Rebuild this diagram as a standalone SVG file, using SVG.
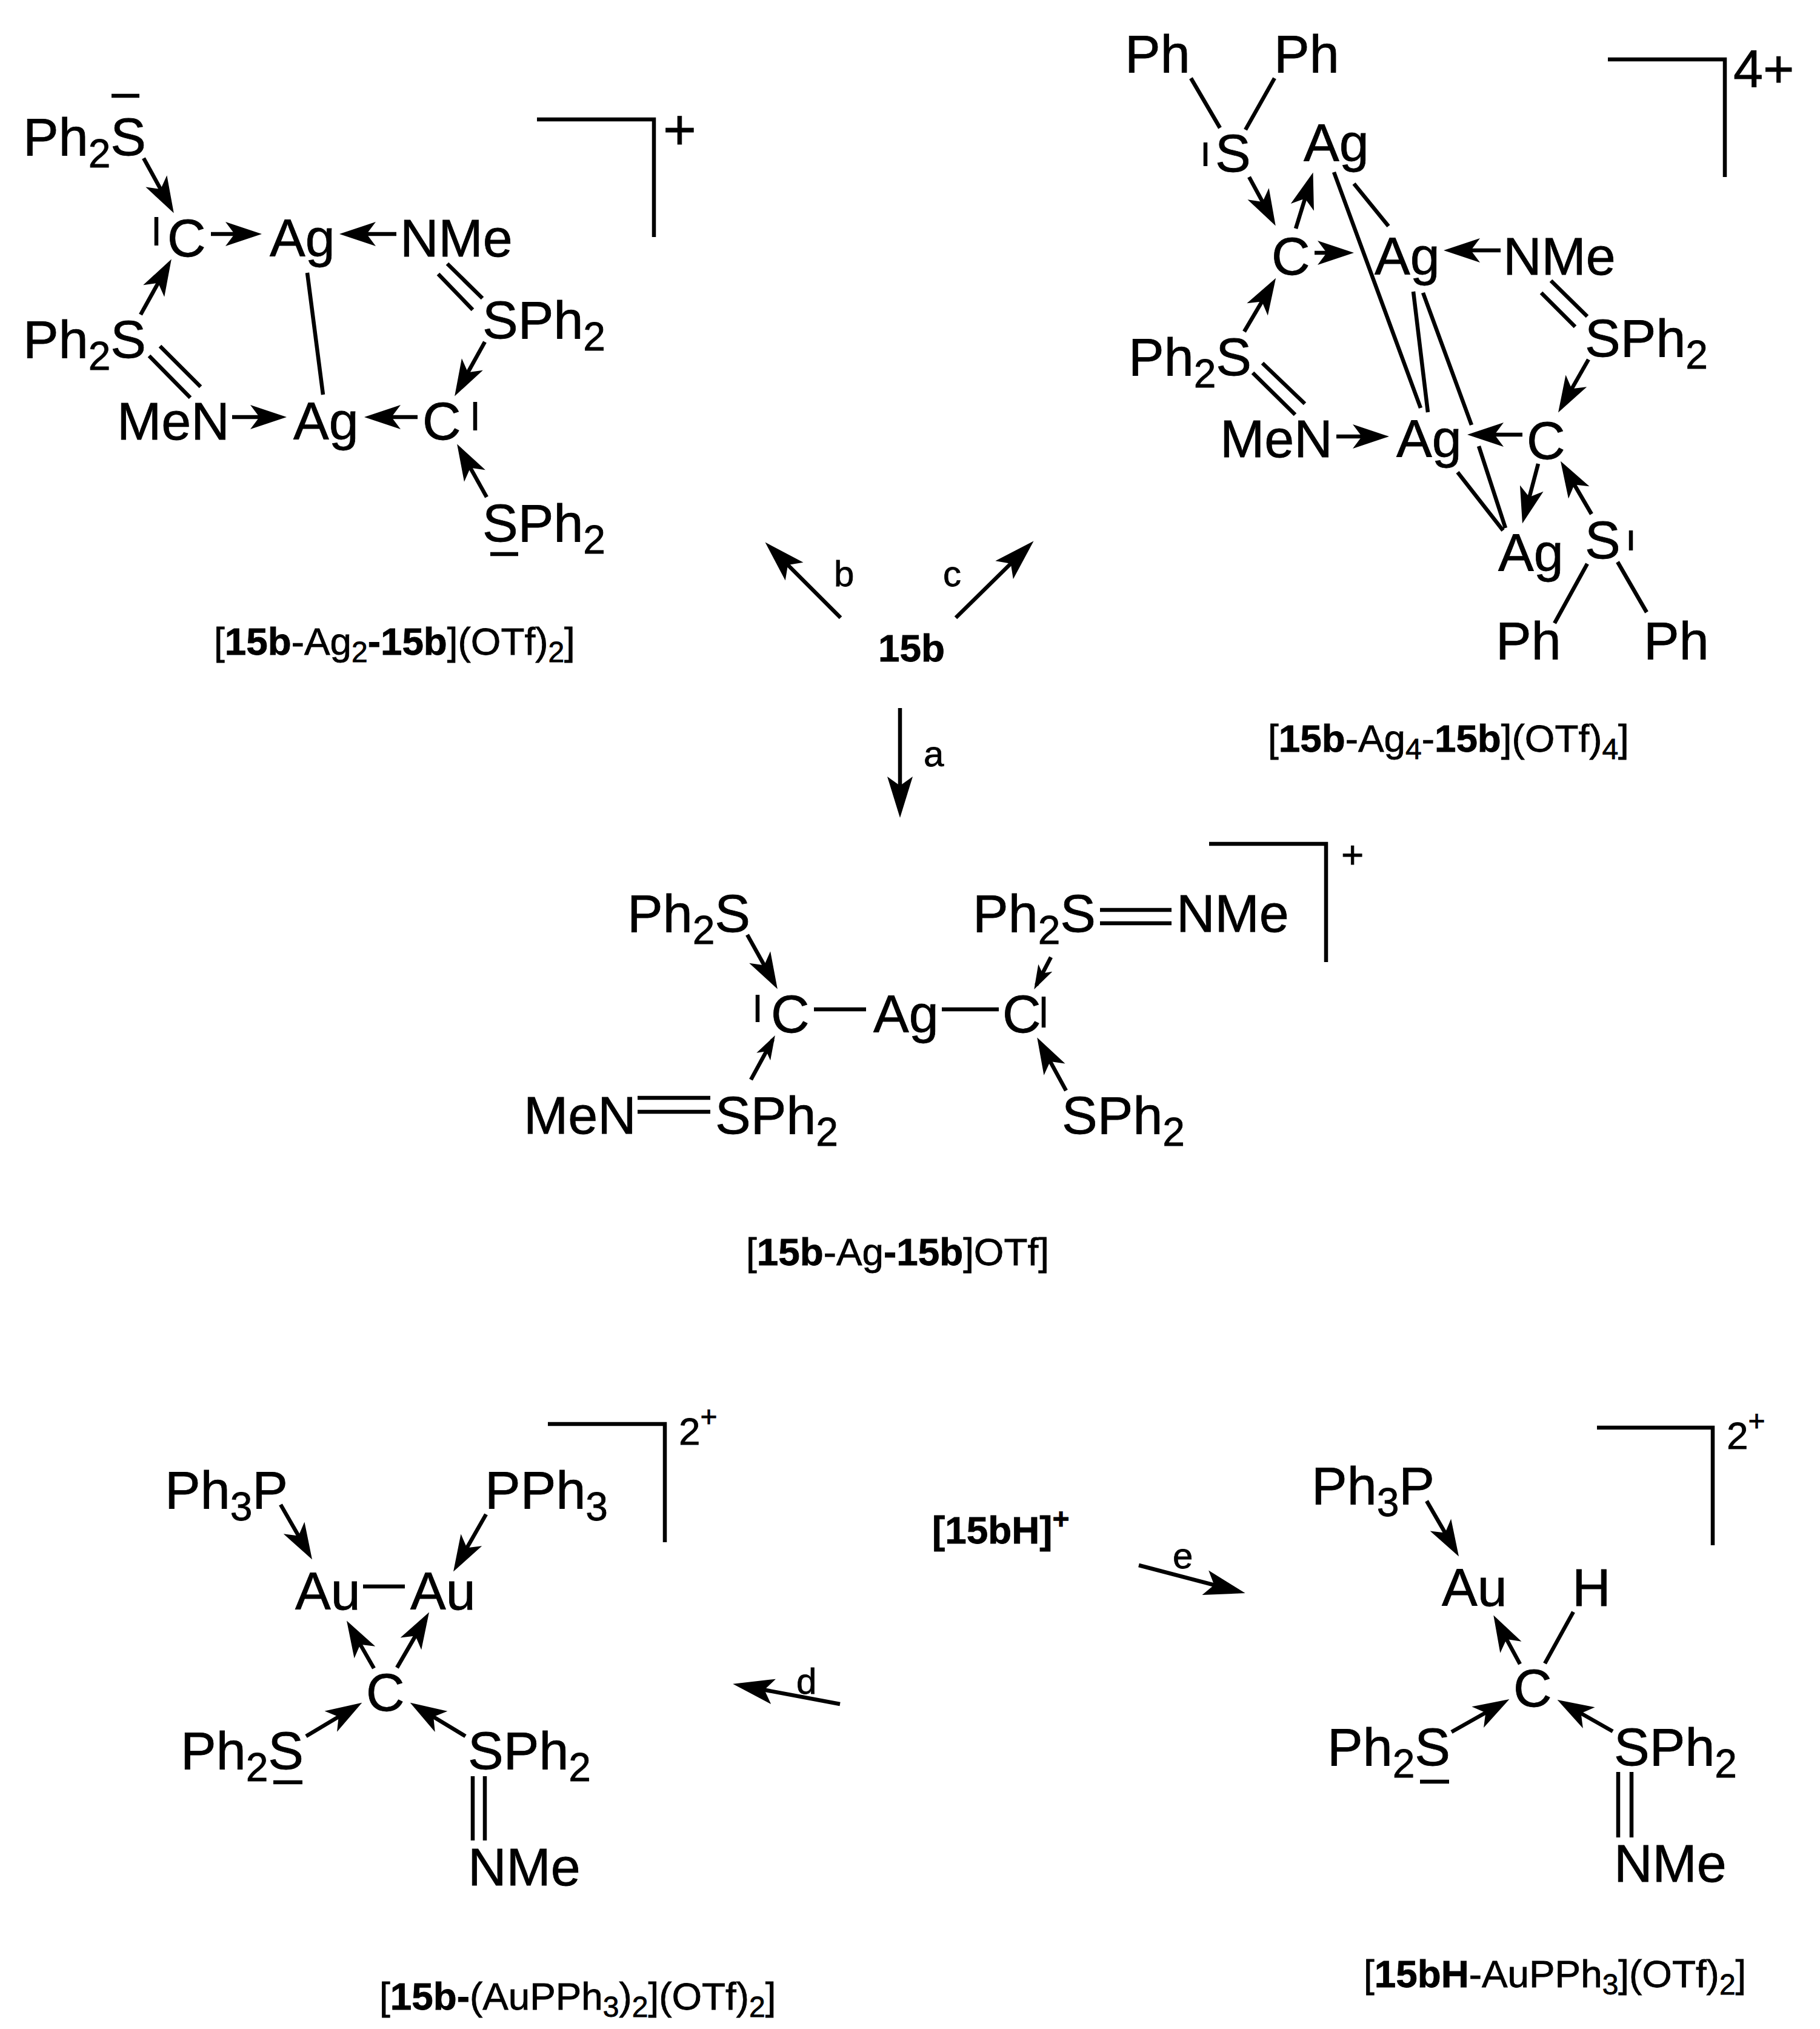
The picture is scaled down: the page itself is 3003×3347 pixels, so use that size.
<svg xmlns="http://www.w3.org/2000/svg" width="3003" height="3347" viewBox="0 0 3003 3347">
<style>
text{font-family:"Liberation Sans",Arial,sans-serif;fill:#000;stroke:#000;stroke-width:.8px}
.t{font-size:88px}
.l{font-size:63.8px}
.r{font-size:60px}
.s{font-size:66px}
.ls{font-size:48px}
.b{font-weight:bold}
.c path{fill:none;stroke:#000;stroke-width:6.5}
.a{marker-end:url(#h)}
.m{marker-end:url(#hs)}
.x{marker-end:url(#hl)}
</style>
<defs>
<marker id="h" markerUnits="userSpaceOnUse" markerWidth="76" markerHeight="48" viewBox="0 0 76 48" refX="50" refY="24" orient="auto"><path d="M62,24 L2,4 L17,24 L2,44 Z" fill="#000" stroke="none"/></marker>
<marker id="hs" markerUnits="userSpaceOnUse" markerWidth="50" markerHeight="30" viewBox="0 0 50 30" refX="32" refY="15" orient="auto"><path d="M40,15 L0,2 L10,15 L0,28 Z" fill="#000" stroke="none"/></marker>
<marker id="hl" markerUnits="userSpaceOnUse" markerWidth="84" markerHeight="48" viewBox="0 0 84 48" refX="58" refY="24" orient="auto"><path d="M70,24 L2,3 L17,24 L2,45 Z" fill="#000" stroke="none"/></marker>
</defs>
<rect width="3003" height="3347" fill="#fff"/>
<g id="connectors" class="c">
<!-- structure 1 -->
<path class="a" d="M237,261L281,341"/><path class="a" d="M348,386H420"/><path class="a" d="M654,386H572"/><path class="a" d="M800,564L756,643"/><path class="a" d="M689,688H613"/><path class="a" d="M383,688H461"/><path class="a" d="M232,519L277,438"/><path class="a" d="M803,820L760,743"/>
<path d="M738,435L796,492M723,452L780,511M264,571L331,638M246,587L314,656M507,450L533,651"/>
<path d="M184,158H230M258,358V405M784,663V710M809,914H855M886,197H1079V391"/>
<!-- structure 2 -->
<path class="a" d="M2061,292L2099,362"/><path class="a" d="M2138,377L2163,296"/><path class="a" d="M2169,417H2222"/><path class="a" d="M2476,413H2394"/><path class="a" d="M2621,593L2577,670"/><path class="a" d="M2512,717H2433"/><path class="a" d="M2205,720H2280"/><path class="a" d="M2053,547L2099,469"/><path class="a" d="M2538,765L2515,852"/><path class="a" d="M2626,848L2581,771"/>
<path d="M1965,129L2013,211M2103,129L2055,214M2234,303L2291,373M2201,284L2344,673M2559,463L2619,522M2543,483L2599,539M2083,599L2153,666M2067,615L2137,684M2332,481L2356,680M2348,483L2428,701M2440,736L2484,871M2405,779L2480,875M2619,930L2565,1028M2669,927L2717,1010"/>
<path d="M1989,235V274M2691,875V908M2653,98H2846V292"/>
<!-- structure 3 -->
<path class="a" d="M1233,1542L1277,1621"/><path class="m" d="M1734,1579L1710,1625"/><path class="m" d="M1239,1781L1275,1715"/><path class="a" d="M1759,1799L1717,1722"/>
<path d="M1815,1501H1933M1815,1523H1933M1343,1665H1429M1554,1665H1648M1052,1811H1172M1052,1834H1172"/>
<path d="M1250,1641V1686M1722,1644V1695M1995,1392H2188V1587"/>
<!-- reaction arrows -->
<path class="x" d="M1485,1168V1337"/><path class="x" d="M1387,1019L1271,903"/><path class="x" d="M1577,1019L1697,901"/><path class="x" d="M1386,2811L1221,2780"/><path class="x" d="M1879,2582L2043,2625"/>
<!-- structure 4 -->
<path class="a" d="M463,2482L509,2562"/><path class="a" d="M802,2498L754,2582"/><path class="a" d="M617,2752L578,2684"/><path class="a" d="M655,2751L702,2670"/><path class="a" d="M505,2864L587,2815"/><path class="a" d="M768,2864L687,2815"/>
<path d="M599,2617H668M780,2930V3036M800,2930V3036M451,2940H499M904,2349H1097V2544"/>
<!-- structure 5 -->
<path class="a" d="M2354,2476L2401,2557"/><path class="a" d="M2508,2745L2470,2675"/><path class="a" d="M2395,2857L2480,2809"/><path class="a" d="M2661,2856L2580,2810"/>
<path d="M2596,2659L2549,2744M2670,2923V3031M2692,2923V3031M2343,2939H2391M2635,2355H2826V2549"/>
</g>
<g id="complex-ag2">
<g id="n1"><text class="t" x="38" y="256">Ph<tspan class="s" dy="20">2</tspan><tspan dy="-20">S</tspan></text></g>
<g id="n2"><text class="t" x="276" y="423">C</text></g>
<g id="n3"><text class="t" x="445" y="423">Ag</text></g>
<g id="n4"><text class="t" x="660" y="423">NMe</text></g>
<g id="n5"><text class="t" x="796" y="558">SPh<tspan class="s" dy="20">2</tspan></text></g>
<g id="n6"><text class="t" x="697" y="725">C</text></g>
<g id="n7"><text class="t" x="484" y="725">Ag</text></g>
<g id="n8"><text class="t" x="193" y="725">MeN</text></g>
<g id="n9"><text class="t" x="38" y="590">Ph<tspan class="s" dy="20">2</tspan><tspan dy="-20">S</tspan></text></g>
<g id="n10"><text class="t" x="796" y="893">SPh<tspan class="s" dy="20">2</tspan></text></g>
<g id="n11"><text class="t" style="font-size:94px" x="1094" y="246">+</text></g>
<g id="n12"><text class="l" x="353" y="1080">[<tspan class="b">15b</tspan>-Ag<tspan class="ls" dy="12">2</tspan><tspan class="b" dy="-12">-15b</tspan>](OTf)<tspan class="ls" dy="12">2</tspan><tspan dy="-12">]</tspan></text></g>
</g>
<g id="complex-ag4">
<g id="n20"><text class="t" x="1856" y="119">Ph</text></g>
<g id="n21"><text class="t" x="2102" y="119">Ph</text></g>
<g id="n22"><text class="t" x="2005" y="283">S</text></g>
<g id="n23"><text class="t" x="2151" y="266">Ag</text></g>
<g id="n24"><text class="t" x="2098" y="453">C</text></g>
<g id="n25"><text class="t" x="2268" y="453">Ag</text></g>
<g id="n26"><text class="t" x="2480" y="453">NMe</text></g>
<g id="n27"><text class="t" x="2615" y="588">SPh<tspan class="s" dy="20">2</tspan></text></g>
<g id="n28"><text class="t" x="2519" y="757">C</text></g>
<g id="n29"><text class="t" x="2304" y="754">Ag</text></g>
<g id="n30"><text class="t" x="2013" y="754">MeN</text></g>
<g id="n31"><text class="t" x="1862" y="619">Ph<tspan class="s" dy="20">2</tspan><tspan dy="-20">S</tspan></text></g>
<g id="n32"><text class="t" x="2472" y="942">Ag</text></g>
<g id="n33"><text class="t" x="2615" y="921">S</text></g>
<g id="n34"><text class="t" x="2468" y="1087">Ph</text></g>
<g id="n35"><text class="t" x="2712" y="1087">Ph</text></g>
<g id="n36"><text class="t" x="2860" y="144">4+</text></g>
<g id="n37"><text class="l" x="2092" y="1240">[<tspan class="b">15b</tspan>-Ag<tspan class="ls" dy="12">4</tspan><tspan dy="-12">-</tspan><tspan class="b">15b</tspan>](OTf)<tspan class="ls" dy="12">4</tspan><tspan dy="-12">]</tspan></text></g>
</g>
<g id="reactant-15b">
<g id="n40"><text class="l b" x="1449" y="1091">15b</text></g>
<g id="n41"><text class="r" x="1524" y="1264">a</text></g>
<g id="n42"><text class="r" x="1376" y="967">b</text></g>
<g id="n43"><text class="r" x="1556" y="967">c</text></g>
</g>
<g id="complex-ag1">
<g id="n50"><text class="t" x="1035" y="1537">Ph<tspan class="s" dy="20">2</tspan><tspan dy="-20">S</tspan></text></g>
<g id="n51"><text class="t" x="1605" y="1537">Ph<tspan class="s" dy="20">2</tspan><tspan dy="-20">S</tspan></text></g>
<g id="n52"><text class="t" x="1941" y="1537">NMe</text></g>
<g id="n53"><text class="t" x="1272" y="1703">C</text></g>
<g id="n54"><text class="t" x="1441" y="1703">Ag</text></g>
<g id="n55"><text class="t" x="1654" y="1703">C</text></g>
<g id="n56"><text class="t" x="864" y="1870">MeN</text></g>
<g id="n57"><text class="t" x="1180" y="1870">SPh<tspan class="s" dy="20">2</tspan></text></g>
<g id="n58"><text class="t" x="1752" y="1870">SPh<tspan class="s" dy="20">2</tspan></text></g>
<g id="n59"><text class="l" x="2213" y="1432">+</text></g>
<g id="n60"><text class="l" x="1231" y="2087">[<tspan class="b">15b</tspan>-Ag<tspan class="b">-15b</tspan>]OTf]</text></g>
</g>
<g id="complex-au2">
<g id="n70"><text class="t" x="272" y="2488">Ph<tspan class="s" dy="20">3</tspan><tspan dy="-20">P</tspan></text></g>
<g id="n71"><text class="t" x="800" y="2488">PPh<tspan class="s" dy="20">3</tspan></text></g>
<g id="n72"><text class="t" x="487" y="2655">Au</text></g>
<g id="n73"><text class="t" x="677" y="2655">Au</text></g>
<g id="n74"><text class="t" x="604" y="2822">C</text></g>
<g id="n75"><text class="t" x="298" y="2918">Ph<tspan class="s" dy="20">2</tspan><tspan dy="-20">S</tspan></text></g>
<g id="n76"><text class="t" x="772" y="2918">SPh<tspan class="s" dy="20">2</tspan></text></g>
<g id="n77"><text class="t" x="772" y="3110">NMe</text></g>
<g id="n78"><text class="l" x="1120" y="2383">2<tspan class="ls" dy="-30">+</tspan></text></g>
<g id="n79"><text class="r" x="1314" y="2794">d</text></g>
<g id="n80"><text class="l" x="626" y="3315">[<tspan class="b">15b-</tspan>(AuPPh<tspan class="ls" dy="12">3</tspan><tspan dy="-12">)</tspan><tspan class="ls" dy="12">2</tspan><tspan dy="-12">](OTf)</tspan><tspan class="ls" dy="12">2</tspan><tspan dy="-12">]</tspan></text></g>
</g>
<g id="complex-au1">
<g id="n90"><text class="l b" x="1538" y="2546">[15bH]<tspan class="ls" dy="-24">+</tspan></text></g>
<g id="n91"><text class="r" x="1935" y="2587">e</text></g>
<g id="n92"><text class="t" x="2164" y="2481">Ph<tspan class="s" dy="20">3</tspan><tspan dy="-20">P</tspan></text></g>
<g id="n93"><text class="t" x="2379" y="2649">Au</text></g>
<g id="n94"><text class="t" x="2594" y="2649">H</text></g>
<g id="n95"><text class="t" x="2497" y="2815">C</text></g>
<g id="n96"><text class="t" x="2190" y="2912">Ph<tspan class="s" dy="20">2</tspan><tspan dy="-20">S</tspan></text></g>
<g id="n97"><text class="t" x="2663" y="2912">SPh<tspan class="s" dy="20">2</tspan></text></g>
<g id="n98"><text class="t" x="2663" y="3104">NMe</text></g>
<g id="n99"><text class="l" x="2849" y="2390">2<tspan class="ls" dy="-30">+</tspan></text></g>
<g id="n100"><text class="l" x="2250" y="3278">[<tspan class="b">15bH</tspan>-AuPPh<tspan class="ls" dy="12">3</tspan><tspan dy="-12">](OTf)</tspan><tspan class="ls" dy="12">2</tspan><tspan dy="-12">]</tspan></text></g>
</g>
</svg>
